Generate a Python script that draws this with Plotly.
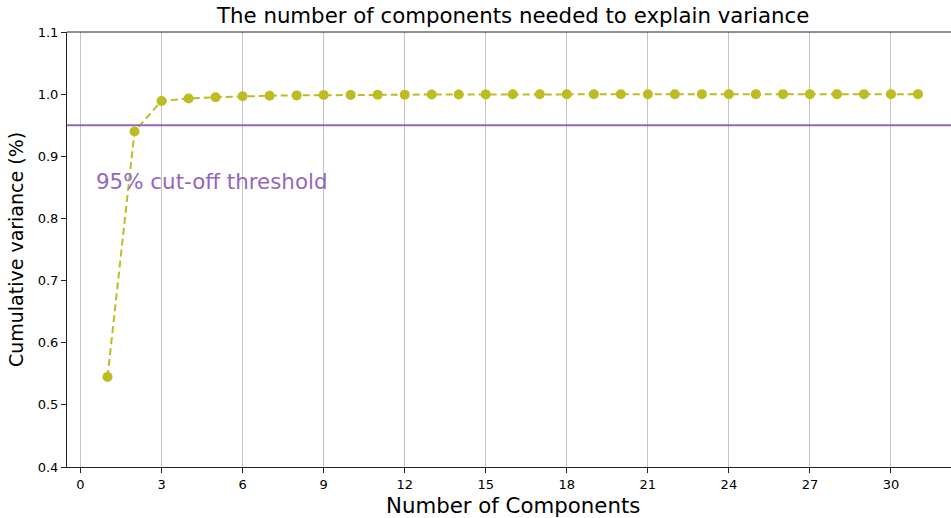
import plotly.graph_objects as go

# Cumulative explained variance per number of principal components
components = list(range(1, 32))
cumulative_variance = [
    0.545, 0.940, 0.989, 0.993, 0.995, 0.9965, 0.9975, 0.998, 0.9985, 0.9988,
    0.999, 0.9992, 0.9994, 0.9995, 0.9996, 0.9997, 0.9997, 0.9998, 0.9998, 0.9999,
    0.9999, 0.9999, 1.0, 1.0, 1.0, 1.0, 1.0, 1.0, 1.0, 1.0, 1.0,
]
threshold = 0.95
x_ticks = list(range(0, 31, 3))
y_ticks = [0.4, 0.5, 0.6, 0.7, 0.8, 0.9, 1.0, 1.1]

OLIVE = "#bcbd22"
PURPLE = "#9467bd"
FONT = "DejaVu Sans"

fig = go.Figure()

fig.add_trace(go.Scatter(
    x=components, y=cumulative_variance,
    mode="lines+markers",
    line=dict(color=OLIVE, width=2, dash="7px,4px"),
    marker=dict(color=OLIVE, size=10),
    showlegend=False,
))

# 95% threshold line
fig.add_shape(type="line", xref="paper", x0=0, x1=1, yref="y", y0=threshold, y1=threshold,
              line=dict(color=PURPLE, width=2))
# top spine
fig.add_shape(type="line", xref="paper", x0=0, x1=1, yref="paper", y0=1, y1=1,
              line=dict(color="#222222", width=1))

fig.add_annotation(x=0.5, y=0.85, xref="x", yref="y", yshift=6, text="95% cut-off threshold",
                   showarrow=False, xanchor="left", yanchor="middle",
                   font=dict(family=FONT, size=21.4, color=PURPLE))

fig.add_annotation(x=16, y=1, xref="x", yref="paper", yshift=2,
                   text="The number of components needed to explain variance",
                   showarrow=False, xanchor="center", yanchor="bottom",
                   font=dict(family=FONT, size=21.3, color="black"))

fig.add_annotation(x=16, y=0, xref="x", yref="paper", yshift=-24,
                   text="Number of Components",
                   showarrow=False, xanchor="center", yanchor="top",
                   font=dict(family=FONT, size=21.3, color="black"))

fig.update_layout(
    width=951, height=518,
    margin=dict(l=67, r=0, t=32, b=51),
    paper_bgcolor="white", plot_bgcolor="white",
    font=dict(family=FONT, size=13, color="black"),
)

fig.update_xaxes(
    range=[-0.5, 32.222], tickvals=x_ticks, ticks="outside", ticklen=5,
    tickcolor="#222222", showline=True, linecolor="#222222", linewidth=1,
    showgrid=True, gridcolor="#c4c4c4", gridwidth=1, zeroline=False,
    tickfont=dict(family=FONT, size=13),
)
fig.update_yaxes(
    range=[0.4, 1.1], tickvals=y_ticks, tickformat=".1f", ticks="outside", ticklen=5,
    tickcolor="#222222", showline=True, linecolor="#222222", linewidth=1,
    showgrid=False, zeroline=False,
    title=dict(text="Cumulative variance (%)", font=dict(family=FONT, size=19), standoff=9),
    tickfont=dict(family=FONT, size=13),
)

fig.write_html("out.html")
